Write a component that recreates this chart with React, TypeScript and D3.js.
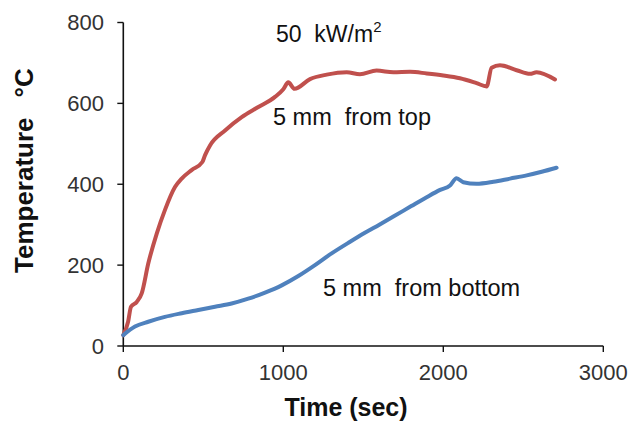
import React from "react";
import * as d3 from "d3";

// Thermocouple temperatures under a 50 kW/m² heat flux
const topTime = [0, 30, 48, 84, 115, 156, 209, 260, 323, 365, 427, 494, 511, 542, 636, 740, 844, 948, 1000, 1031, 1070, 1167, 1271, 1396, 1479, 1583, 1688, 1792, 1896, 2000, 2104, 2208, 2271, 2302, 2354, 2458, 2542, 2583, 2698];
const topTemp = [27, 60, 97, 109, 130, 204, 278, 336, 393, 414, 435, 455, 472, 496, 533, 566, 591, 616, 635, 652, 636, 660, 671, 677, 672, 681, 677, 678, 674, 669, 662, 650, 642, 688, 694, 682, 673, 677, 659];

const bottomTime = [0, 73, 156, 260, 365, 469, 573, 677, 781, 886, 990, 1094, 1198, 1302, 1406, 1510, 1600, 1688, 1800, 1896, 1980, 2042, 2083, 2125, 2208, 2313, 2417, 2521, 2615, 2708];
const bottomTemp = [27, 48, 60, 72, 81, 89, 97, 105, 117, 132, 150, 173, 200, 229, 255, 280, 300, 320, 346, 368, 386, 397, 415, 405, 401, 406, 414, 422, 431, 441];

const xTicks = [0, 1000, 2000, 3000];
const yTicks = [0, 200, 400, 600, 800];

const W = 632;
const H = 425;
const FONT = "'Liberation Sans', Arial, sans-serif";

export default function App() {
  const x = d3.scaleLinear().domain([0, 3000]).range([123.3, 603.3]);
  const y = d3.scaleLinear().domain([0, 800]).range([346, 22.5]);

  const line = d3
    .line<[number, number]>()
    .x((d) => x(d[0]))
    .y((d) => y(d[1]))
    .curve(d3.curveMonotoneX);

  const top = topTime.map((t, i) => [t, topTemp[i]] as [number, number]);
  const bottom = bottomTime.map((t, i) => [t, bottomTemp[i]] as [number, number]);

  const x0 = x(0);
  const y0 = y(0);

  return (
    <svg
      width={W}
      height={H}
      style={{ position: "absolute", left: 0, top: 0, background: "#fff" }}
      fontFamily={FONT}
    >
      <rect width={W} height={H} fill="#fff" />

      {/* axes */}
      <line x1={x0} x2={x0} y1={y(800)} y2={y0} stroke="#111" strokeWidth={1.6} />
      <line x1={x0} x2={x(3000)} y1={y0} y2={y0} stroke="#111" strokeWidth={1.6} />

      {yTicks.map((v) => (
        <g key={"y" + v}>
          <line x1={x0 - 6} x2={x0} y1={y(v)} y2={y(v)} stroke="#111" strokeWidth={1.4} />
          <text x={104} y={y(v)} dy="0.36em" textAnchor="end" fontSize={22} fill="#333">
            {v}
          </text>
        </g>
      ))}

      {xTicks.map((v) => (
        <g key={"x" + v}>
          <line x1={x(v)} x2={x(v)} y1={y0} y2={y0 + 6} stroke="#111" strokeWidth={1.4} />
          <text x={x(v)} y={380} textAnchor="middle" fontSize={22} fill="#333">
            {v}
          </text>
        </g>
      ))}

      {/* series */}
      <path d={line(top) ?? ""} fill="none" stroke="#C0504D" strokeWidth={4} strokeLinejoin="round" strokeLinecap="round" />
      <path d={line(bottom) ?? ""} fill="none" stroke="#4F81BD" strokeWidth={4} strokeLinejoin="round" strokeLinecap="round" />

      {/* annotations */}
      <text x={276} y={42} fontSize={23} fill="#111" style={{ whiteSpace: "pre" }}>
        {"50  kW/m"}
        <tspan dy={-10} fontSize={15}>2</tspan>
      </text>
      <text x={273} y={125} fontSize={23.5} fill="#111" style={{ whiteSpace: "pre" }}>
        {"5 mm  from top"}
      </text>
      <text x={323} y={296} fontSize={23.5} fill="#111" style={{ whiteSpace: "pre" }}>
        {"5 mm  from bottom"}
      </text>

      {/* axis titles */}
      <text x={346} y={416} textAnchor="middle" fontSize={25} fontWeight="bold" fill="#111">
        Time (sec)
      </text>
      <text transform={`translate(33,273) rotate(-90)`} fontSize={26} fontWeight="bold" fill="#111">
        Temperature
        <tspan dx={20}>°C</tspan>
      </text>
    </svg>
  );
}
